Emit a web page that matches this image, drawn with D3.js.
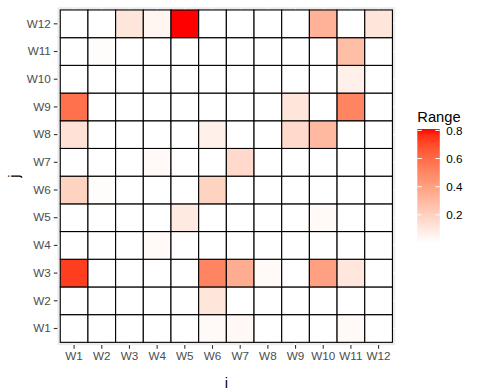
<!DOCTYPE html>
<html><head><meta charset="utf-8">
<script src="https://cdn.jsdelivr.net/npm/d3@7"></script>
<style>body{margin:0;background:#fff;} svg{display:block;font-family:"Liberation Sans",Arial,sans-serif;}</style>
</head><body>
<script>
const xCats = ["W1","W2","W3","W4","W5","W6","W7","W8","W9","W10","W11","W12"];
const yCats = ["W1","W2","W3","W4","W5","W6","W7","W8","W9","W10","W11","W12"];
// values[row j][column i]
const values = [
  [0,0,0,0,0,0.025,0.03,0,0,0,0.025,0],          // W1
  [0,0,0,0,0,0.11,0,0,0,0,0,0],                  // W2
  [0.73,0,0,0,0,0.51,0.35,0.025,0,0.40,0.105,0], // W3
  [0,0,0,0.025,0,0,0,0,0,0,0,0],                 // W4
  [0,0,0,0,0.09,0,0,0,0,0.025,0,0],              // W5
  [0.19,0.008,0,0,0,0.19,0,0,0,0,0,0],           // W6
  [0,0,0,0.025,0,0,0.16,0,0,0,0,0],              // W7
  [0.13,0,0,0,0,0.065,0,0,0.16,0.30,0,0],        // W8
  [0.58,0,0,0,0,0,0,0,0.11,0,0.51,0],            // W9
  [0,0,0,0,0,0,0,0,0,0,0.065,0],                 // W10
  [0,0.008,0,0,0,0,0,0,0,0,0.28,0],              // W11
  [0,0,0.11,0.04,0.81,0,0,0,0,0.33,0,0.11]       // W12
];
const legendTicks = [0.2,0.4,0.6,0.8];
const legendTitle = "Range";

const W = 479, H = 390;
const svg = d3.select("body").append("svg").attr("width", W).attr("height", H);

const pL = 57.5, pR = 395.2, pT = 7.2, pB = 345.1;
const x = d3.scaleBand().domain(xCats).range([pL, pR]).paddingInner(0).paddingOuter(0.1);
const y = d3.scaleBand().domain(yCats.slice().reverse()).range([pT, pB]).paddingInner(0).paddingOuter(0.1);

const vmin = 0, vmax = 0.81;
const color = d3.scaleLinear().domain([vmin, vmax]).range(["#ffffff", "#ff0000"]).interpolate(d3.interpolateLab);

// panel
svg.append("rect").attr("x", pL).attr("y", pT).attr("width", pR - pL).attr("height", pB - pT).attr("fill", "#EBEBEB");
const grid = svg.append("g");
xCats.forEach(c => grid.append("line").attr("x1", x(c) + x.bandwidth()/2).attr("x2", x(c) + x.bandwidth()/2)
  .attr("y1", pT).attr("y2", pB).attr("stroke", "#fff").attr("stroke-width", 1.1));
yCats.forEach(c => grid.append("line").attr("y1", y(c) + y.bandwidth()/2).attr("y2", y(c) + y.bandwidth()/2)
  .attr("x1", pL).attr("x2", pR).attr("stroke", "#fff").attr("stroke-width", 1.1));

const cells = [];
yCats.forEach((j, ri) => xCats.forEach((i, ci) => cells.push({i, j, v: values[ri][ci]})));
svg.append("g").selectAll("rect").data(cells).join("rect")
  .attr("x", d => x(d.i)).attr("y", d => y(d.j))
  .attr("width", x.bandwidth()).attr("height", y.bandwidth())
  .attr("fill", d => color(d.v)).attr("stroke", "#000").attr("stroke-width", 1.1);

// axes
const xAxis = svg.append("g").attr("transform", `translate(0,${pB})`)
  .call(d3.axisBottom(x).tickSize(3.7).tickPadding(3));
const yAxis = svg.append("g").attr("transform", `translate(${pL},0)`)
  .call(d3.axisLeft(y).tickSize(3.7).tickPadding(3));
[xAxis, yAxis].forEach(a => {
  a.select(".domain").remove();
  a.selectAll(".tick line").attr("stroke", "#333333").attr("stroke-width", 1.1);
  a.selectAll(".tick text").attr("fill", "#4D4D4D").style("font-size", "11.7px").style("font-family", "Liberation Sans, Arial, sans-serif");
});

svg.append("text").attr("x", (pL + pR)/2).attr("y", 388).attr("text-anchor", "middle")
  .style("font-size", "14.7px").attr("fill", "#000").text("i");
svg.append("text").attr("transform", `translate(19,${(pT + pB)/2}) rotate(-90)`).attr("text-anchor", "middle")
  .style("font-size", "14.7px").attr("fill", "#000").text("j");

// legend
const lx = 417.3, lw = 22.5, lTop = 129, lBot = 243;
const ly = d3.scaleLinear().domain([vmin, vmax]).range([lBot, lTop]);
const defs = svg.append("defs");
const grad = defs.append("linearGradient").attr("id", "lg").attr("x1", 0).attr("y1", 1).attr("x2", 0).attr("y2", 0);
d3.range(0, 21).forEach(k => {
  const t = k / 20;
  grad.append("stop").attr("offset", t).attr("stop-color", color(vmin + t * (vmax - vmin)));
});
svg.append("rect").attr("x", lx).attr("y", lTop).attr("width", lw).attr("height", lBot - lTop).attr("fill", "url(#lg)");
const lg = svg.append("g");
legendTicks.forEach(t => {
  lg.append("line").attr("x1", lx).attr("x2", lx + lw/5).attr("y1", ly(t)).attr("y2", ly(t)).attr("stroke", "#fff").attr("stroke-width", 1);
  lg.append("line").attr("x1", lx + lw - lw/5).attr("x2", lx + lw).attr("y1", ly(t)).attr("y2", ly(t)).attr("stroke", "#fff").attr("stroke-width", 1);
  lg.append("text").attr("x", lx + lw + 6.5).attr("y", ly(t)).attr("dy", "0.35em")
    .style("font-size", "11.7px").attr("fill", "#000").text(d3.format(".1f")(t));
});
svg.append("text").attr("x", lx).attr("y", 121.5).style("font-size", "14.7px").attr("fill", "#000").text(legendTitle);
</script>
</body></html>
